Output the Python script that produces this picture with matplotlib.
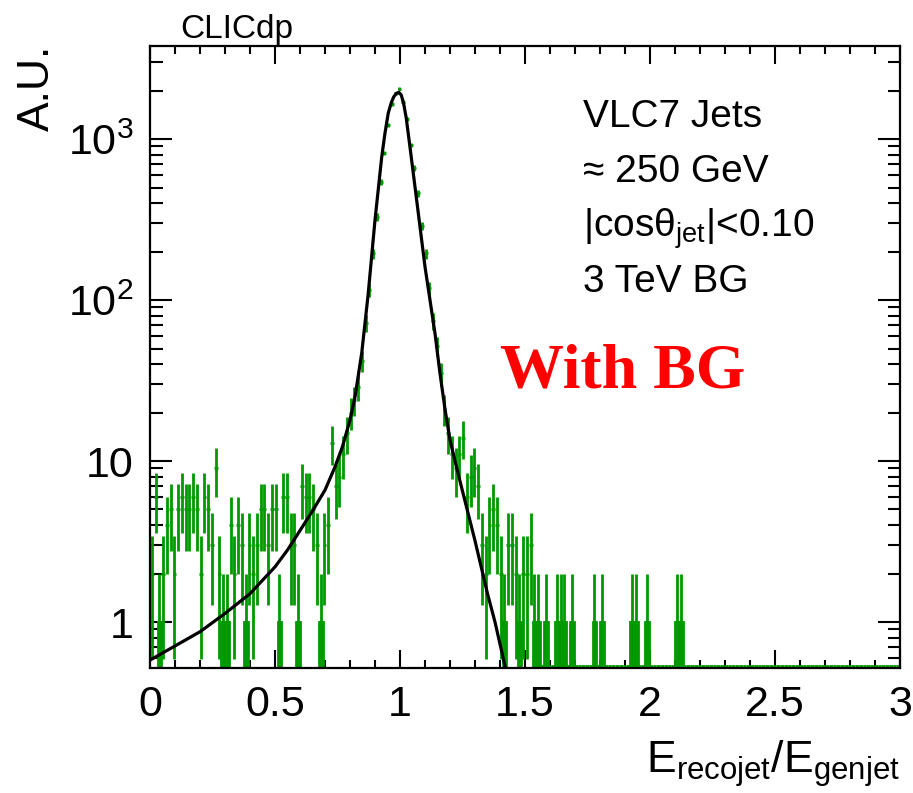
import numpy as np
import matplotlib
matplotlib.use('Agg')
import matplotlib.pyplot as plt
from matplotlib.ticker import MultipleLocator, LogLocator, NullFormatter, FixedLocator, FixedFormatter

# ---------------- data ----------------
x_min, x_max, n_bins = 0.0, 3.0, 200

counts = [
    2, 6, 1, 2, 4, 5, 2, 5, 6, 5, 5, 6, 5, 2, 6, 5, 3, 9, 2, 1,
    1, 4, 2, 4, 3, 1, 3, 2, 3, 5, 5, 3, 5, 5, 1, 6, 6, 3, 3, 1,
    7, 6, 6, 5, 3, 1, 3, 4, 13, 7, 8, 11, 15, 20, 24, 29, 42, 72, 115, 195,
    330, 540, 820, 1220, 1650, 1920, 2050, 1700, 1330, 920,
    660, 460, 290, 195, 118, 74, 52, 35, 21, 15,
    11, 9, 11, 14, 6, 8, 9, 7, 3, 2, 4, 5, 4, 2, 1, 3, 3, 2, 1, 2,
    2, 3, 1, 1, 0, 1, 0, 0, 1, 1, 1, 0, 1, 0, 0, 0, 0, 0, 1, 0,
    1, 0, 0, 0, 0, 0, 0, 0, 1, 1, 0, 0, 1, 0, 0, 0, 0, 0, 0, 0,
    1, 1, 0, 0, 0, 0, 0, 0, 0, 0, 0, 0, 0, 0, 0, 0, 0, 0, 0, 0,
    0, 0, 0, 0, 0, 0, 0, 0, 0, 0, 0, 0, 0, 0, 0, 0, 0, 0, 0, 0,
    0, 0, 0, 0, 0, 0, 0, 0, 0, 0, 0, 0, 0, 0, 0, 0, 0, 0, 0, 0,
]

fit_x = [0.00, 0.10, 0.20, 0.30, 0.40, 0.50, 0.55, 0.60, 0.65, 0.70,
         0.74, 0.77, 0.80, 0.82, 0.847, 0.873, 0.90, 0.927, 0.94, 0.953,
         0.965, 0.975, 0.985, 0.995, 1.005, 1.015, 1.025, 1.04, 1.06, 1.08,
         1.10, 1.12, 1.14, 1.16, 1.18, 1.20, 1.22, 1.25, 1.30, 1.35,
         1.38, 1.424]
fit_y = [0.58, 0.71, 0.87, 1.13, 1.5, 2.2, 2.8, 3.7, 4.9, 6.6,
         9.2, 12.3, 18, 25, 47, 110, 314, 777, 1090, 1450,
         1680, 1830, 1920, 1950, 1880, 1650, 1350, 890, 505, 285,
         161, 100, 62, 35, 21, 13.5, 10, 6.5, 3.2, 1.5,
         1.0, 0.5]

x_ticks = [0, 0.5, 1, 1.5, 2, 2.5, 3]
x_tick_labels = ['0', '0.5', '1', '1.5', '2', '2.5', '3']
y_ticks = [1, 10, 100, 1000]
y_tick_labels = ['1', '10', r'$10^{2}$', r'$10^{3}$']
y_min, y_max = 0.518, 3785

info_lines = ['VLC7 Jets', '≈ 250 GeV', r'$|$cosθ$_{\mathrm{jet}}$$|$<0.10', '3 TeV BG']

# ---------------- style ----------------
plt.rcParams['font.family'] = ['Liberation Sans', 'DejaVu Sans']
plt.rcParams['mathtext.fontset'] = 'custom'
plt.rcParams['mathtext.rm'] = 'Liberation Sans'
plt.rcParams['mathtext.it'] = 'Liberation Sans:italic'
plt.rcParams['mathtext.bf'] = 'Liberation Sans:bold'
plt.rcParams['mathtext.default'] = 'regular'

W, H = 913, 793
fig = plt.figure(figsize=(W / 100, H / 100), dpi=100)
ax = fig.add_axes([150 / W, (H - 668) / H, 750 / W, 622 / H])

green = '#009900'
edges = np.linspace(x_min, x_max, n_bins + 1)
centers = 0.5 * (edges[:-1] + edges[1:])
width = edges[1] - edges[0]
c = np.array(counts, dtype=float)
nz = c > 0
err = np.sqrt(c)

ax.set_yscale('log')
ax.set_xlim(x_min, x_max)
ax.set_ylim(y_min, y_max)

lw = 2.0
ax.errorbar(centers[nz], c[nz], xerr=width / 2, yerr=err[nz], fmt='none',
            ecolor=green, elinewidth=lw, capsize=0, zorder=2)
ones = c == 1
ax.bar(centers[ones], 1 - y_min, bottom=y_min, width=width, color=green,
       edgecolor=green, linewidth=lw, zorder=2)
ax.hlines(np.full((~nz).sum(), y_min * 1.03), edges[:-1][~nz], edges[1:][~nz],
          color=green, lw=lw, zorder=2)

ax.plot(fit_x, fit_y, color='black', lw=2.3, zorder=3)

# ticks
ax.xaxis.set_major_locator(FixedLocator(x_ticks))
ax.xaxis.set_major_formatter(FixedFormatter(x_tick_labels))
ax.xaxis.set_minor_locator(MultipleLocator(0.1))
ax.yaxis.set_major_locator(FixedLocator(y_ticks))
ax.yaxis.set_major_formatter(FixedFormatter(y_tick_labels))
ax.yaxis.set_minor_locator(LogLocator(base=10, subs=np.arange(2, 10)))
ax.yaxis.set_minor_formatter(NullFormatter())

ax.tick_params(which='both', direction='in', top=True, right=True, width=1.5, color='black')
ax.tick_params(axis='x', which='major', length=13, labelsize=31, pad=12)
ax.tick_params(axis='x', which='minor', length=6)
ax.tick_params(axis='y', which='major', length=16, labelsize=31, pad=12)
ax.tick_params(axis='y', which='minor', length=9)
for s in ax.spines.values():
    s.set_linewidth(1.6)

# labels and texts
fig.text(900 / W, 1 - 773 / H, r'$E_{\mathrm{recojet}}/E_{\mathrm{genjet}}$',
         ha='right', va='baseline', fontsize=32)
fig.text(37 / W, 1 - 45 / H, 'A.U.', rotation=90, ha='center', va='top', fontsize=32)
fig.text(180 / W, 1 - 38 / H, 'CLICdp', ha='left', va='baseline', fontsize=24)

baselines = [127, 182, 237, 292]
for txt, yb in zip(info_lines, baselines):
    fig.text(583 / W, 1 - yb / H, txt, ha='left', va='baseline', fontsize=28)

fig.text(500 / W, 1 - 387 / H, 'With BG', ha='left', va='baseline', fontsize=46,
         color='#ff0000', fontweight='bold', family=['Liberation Serif', 'DejaVu Serif'])

fig.savefig('out.png', dpi=100)
